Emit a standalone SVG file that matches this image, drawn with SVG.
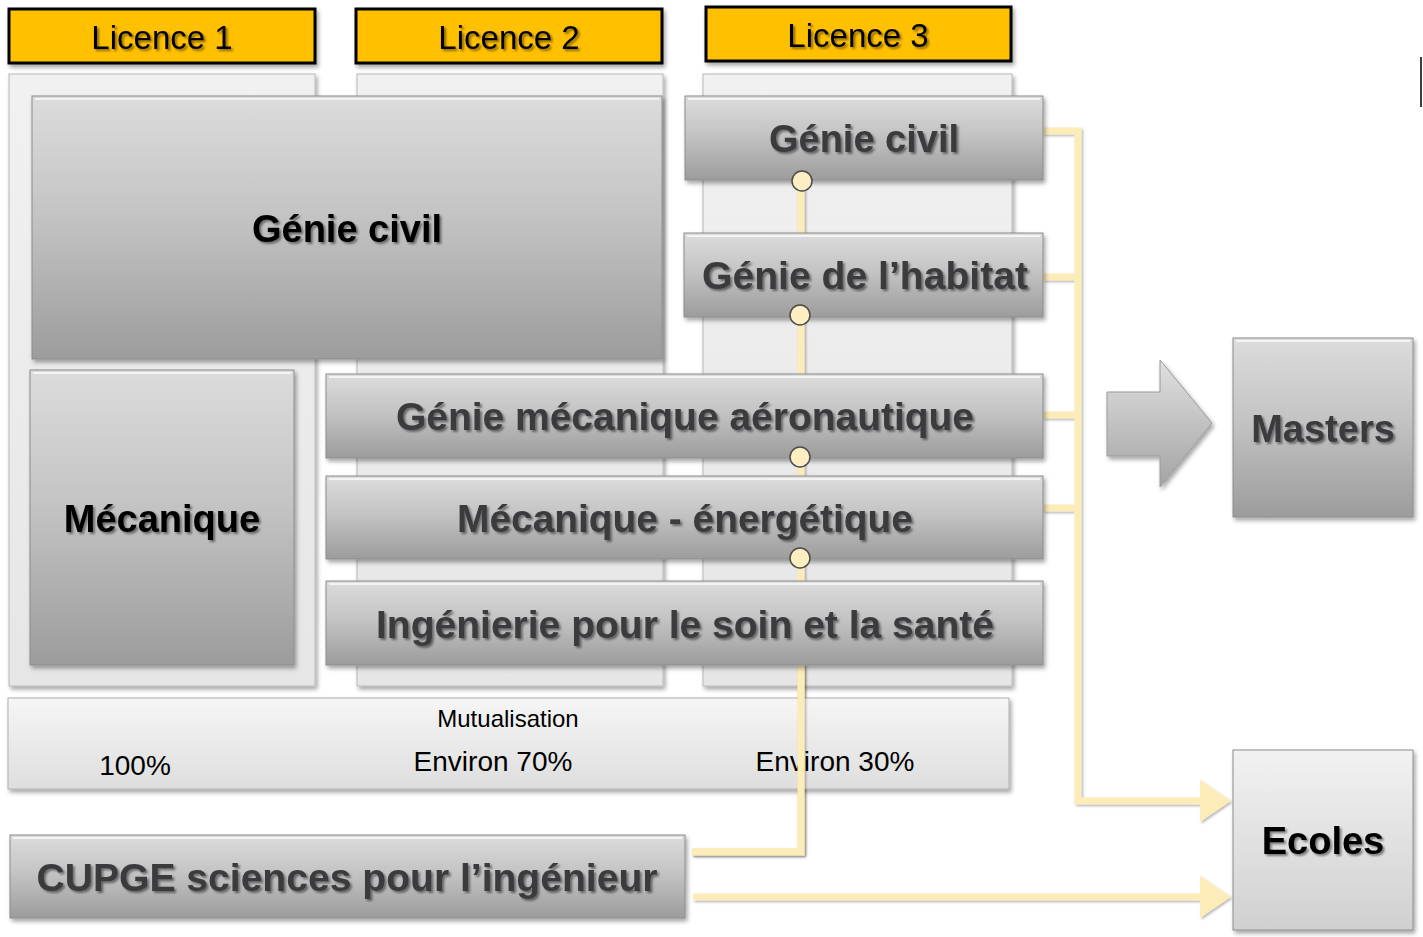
<svg xmlns="http://www.w3.org/2000/svg" width="1423" height="937" viewBox="0 0 1423 937">
<defs>
<linearGradient id="gGrey" x1="0" y1="0" x2="0" y2="1">
<stop offset="0" stop-color="#dcdcdc"/><stop offset="0.45" stop-color="#c4c4c4"/><stop offset="1" stop-color="#9c9c9c"/>
</linearGradient>
<linearGradient id="gLight" x1="0" y1="0" x2="0" y2="1">
<stop offset="0" stop-color="#f6f6f6"/><stop offset="1" stop-color="#dedede"/>
</linearGradient>
<linearGradient id="gCol" x1="0" y1="0" x2="0" y2="1">
<stop offset="0" stop-color="#f1f1f1"/><stop offset="1" stop-color="#e6e6e6"/>
</linearGradient>
<linearGradient id="gEcole" x1="0" y1="0" x2="0" y2="1">
<stop offset="0" stop-color="#f2f2f2"/><stop offset="1" stop-color="#d0d0d0"/>
</linearGradient>
<linearGradient id="gArrow" x1="0" y1="0" x2="0" y2="1">
<stop offset="0" stop-color="#e0e0e0"/><stop offset="1" stop-color="#a4a4a4"/>
</linearGradient>
<filter id="sh" x="-5%" y="-5%" width="115%" height="120%">
<feDropShadow dx="2" dy="3" stdDeviation="2" flood-color="#000" flood-opacity="0.35"/>
</filter>
<filter id="tsh" x="-5%" y="-20%" width="115%" height="150%">
<feDropShadow dx="2" dy="2" stdDeviation="1.2" flood-color="#000" flood-opacity="0.45"/>
</filter>
<filter id="lsh" filterUnits="userSpaceOnUse" x="0" y="0" width="1423" height="937">
<feDropShadow dx="1.5" dy="1.5" stdDeviation="1" flood-color="#000" flood-opacity="0.3"/>
</filter>
<marker id="ah" viewBox="0 0 10 10" refX="0" refY="5" markerWidth="4.4" markerHeight="6" orient="auto" markerUnits="strokeWidth" preserveAspectRatio="none">
<path d="M0,0 L10,5 L0,10 Z" fill="#fcecb8"/>
</marker>
</defs>
<style>
.box{fill:url(#gGrey);stroke:#8c8c8c;stroke-width:1;filter:url(#sh)}
.col{fill:url(#gCol);stroke:#b8b8b8;stroke-width:1;filter:url(#sh)}
.hl{fill:none;stroke:#f4f4f4;stroke-width:2}
.lic{fill:#ffc000;stroke:#000;stroke-width:3;filter:url(#sh)}
.lt{font-family:"Liberation Sans",Arial,sans-serif;font-size:33px;fill:#000;text-anchor:middle;filter:url(#tsh)}
.bt{font-family:"Liberation Sans",Arial,sans-serif;font-size:38px;font-weight:bold;fill:#3a3a3e;text-anchor:middle;filter:url(#tsh)}
.bk{fill:#000}
.mt{font-family:"Liberation Sans",Arial,sans-serif;fill:#000;text-anchor:middle}
.ln{fill:none;stroke:#fcecb8;stroke-width:7}
.dot{fill:#fdefc2;stroke:#4a4a4a;stroke-width:1.5}
</style>

<!-- column backgrounds -->
<g id="columns">
<rect class="col" x="9" y="74" width="306" height="612"/>
<rect class="col" x="357" y="74" width="306" height="612"/>
<rect class="col" x="703" y="74" width="309" height="612"/>
</g>

<!-- headers -->
<g id="licence1"><rect class="lic" x="9" y="9" width="306" height="54"/><text class="lt" x="162" y="49">Licence 1</text></g>
<g id="licence2"><rect class="lic" x="356" y="9" width="306" height="54"/><text class="lt" x="509" y="49">Licence 2</text></g>
<g id="licence3"><rect class="lic" x="706" y="7" width="305" height="54"/><text class="lt" x="858" y="47">Licence 3</text></g>

<!-- connectors (behind boxes) -->
<g id="connectors" filter="url(#lsh)">
<path class="ln" d="M801,181 L801,852 L692,852"/>
<path class="ln" d="M1043,131 L1078,131 L1078,801 L1200,801" marker-end="url(#ah)"/>
<path class="ln" d="M1043,277 L1078,277"/>
<path class="ln" d="M1043,415 L1078,415"/>
<path class="ln" d="M1043,508 L1078,508"/>
<path class="ln" d="M693,897 L1200,897" marker-end="url(#ah)"/>
</g>

<g id="mutualisation">
<rect x="8" y="698" width="1001" height="91" fill="url(#gLight)" stroke="#b0b0b0" stroke-width="1" filter="url(#sh)"/>
<line x1="12" y1="701" x2="1005" y2="701" class="hl"/>
<text class="mt" x="508" y="727" font-size="24">Mutualisation</text>
<text class="mt" x="135" y="775" font-size="28">100%</text>
<text class="mt" x="493" y="771" font-size="28">Environ 70%</text>
<text class="mt" x="835" y="771" font-size="28">Environ 30%</text>
</g>
<!-- vertical connector drawn over the mutualisation bar -->
<g id="connector-over" filter="url(#lsh)">
<path class="ln" d="M801,665 L801,852 L692,852"/>
</g>

<g id="genie-civil-l1l2"><rect class="box" x="32" y="96" width="630" height="263"/><line class="hl" x1="35" y1="99" x2="659" y2="99"/><text class="bt bk" x="347" y="242">Génie civil</text></g>
<g id="mecanique"><rect class="box" x="30" y="370" width="264" height="295"/><line class="hl" x1="33" y1="373" x2="291" y2="373"/><text class="bt bk" x="162" y="532">Mécanique</text></g>

<g id="genie-civil-l3"><rect class="box" x="685" y="96" width="358" height="84"/><line class="hl" x1="688" y1="99" x2="1040" y2="99"/><text class="bt" x="864" y="152">Génie civil</text></g>
<g id="habitat"><rect class="box" x="684" y="233" width="359" height="84"/><line class="hl" x1="687" y1="236" x2="1040" y2="236"/><text class="bt" x="865" y="289" textLength="326" lengthAdjust="spacingAndGlyphs">Génie de l’habitat</text></g>
<g id="aero"><rect class="box" x="326" y="374" width="717" height="84"/><line class="hl" x1="329" y1="377" x2="1040" y2="377"/><text class="bt" x="685" y="430" textLength="578" lengthAdjust="spacingAndGlyphs">Génie mécanique aéronautique</text></g>
<g id="meca-energetique"><rect class="box" x="326" y="476" width="717" height="83"/><line class="hl" x1="329" y1="479" x2="1040" y2="479"/><text class="bt" x="685" y="532" textLength="456" lengthAdjust="spacingAndGlyphs">Mécanique - énergétique</text></g>
<g id="sante"><rect class="box" x="326" y="581" width="717" height="84"/><line class="hl" x1="329" y1="584" x2="1040" y2="584"/><text class="bt" x="685" y="638" textLength="618" lengthAdjust="spacingAndGlyphs">Ingénierie pour le soin et la santé</text></g>

<g id="dots">
<circle class="dot" cx="802" cy="181" r="10"/>
<circle class="dot" cx="800" cy="315" r="10"/>
<circle class="dot" cx="800" cy="457" r="10"/>
<circle class="dot" cx="800" cy="558" r="10"/>
</g>

<g id="cupge"><rect class="box" x="10" y="835" width="675" height="83"/><line class="hl" x1="13" y1="838" x2="682" y2="838"/><text class="bt" x="347" y="891" textLength="621" lengthAdjust="spacingAndGlyphs">CUPGE sciences pour l’ingénieur</text></g>

<g id="big-arrow">
<path d="M1107,392 L1160,392 L1160,360 L1212,423 L1160,487 L1160,456 L1107,456 Z" fill="url(#gArrow)" stroke="#9a9a9a" stroke-width="1" filter="url(#sh)"/>
</g>

<g id="masters"><rect class="box" x="1233" y="338" width="180" height="179"/><line class="hl" x1="1236" y1="341" x2="1410" y2="341"/><text class="bt" x="1323" y="442">Masters</text></g>
<g id="ecoles"><rect x="1233" y="750" width="180" height="180" fill="url(#gEcole)" stroke="#8c8c8c" stroke-width="1" filter="url(#sh)"/><text class="bt bk" x="1323" y="854">Ecoles</text></g>

<line x1="1421" y1="57" x2="1421" y2="107" stroke="#000" stroke-width="1.5"/>
</svg>
